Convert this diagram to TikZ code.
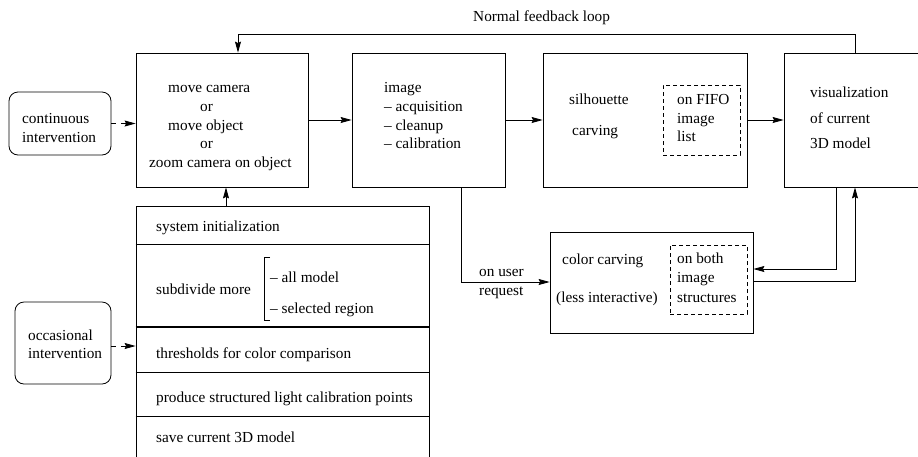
\documentclass[tikz,border=0pt]{standalone}
\usepackage{fontspec}
\setmainfont{Liberation Serif}
\usetikzlibrary{arrows.meta}
\tikzset{
  box/.style={draw=black,line width=0.8pt,rectangle,inner sep=0pt},
  rbox/.style={box,rounded corners=9pt},
  dbox/.style={draw=black,line width=0.8pt,dash pattern=on 4pt off 3pt},
  lbl/.style={anchor=base west,inner sep=0pt,font=\fontsize{15.3}{19}\selectfont},
  arr/.style={line width=0.8pt,-{Stealth[length=11pt,width=6pt,inset=1.5pt]}},
  darr/.style={arr,dash pattern=on 5pt off 5pt},
  sep/.style={line width=0.8pt}
}
\begin{document}
\begin{tikzpicture}[x=1pt,y=-1pt]
\useasboundingbox (0,0) rectangle (918,456);
\clip (0,0) rectangle (918,456);
% main boxes
\node[box,minimum width=172pt,minimum height=134pt] (box1) at (222,120) {};
\node[box,minimum width=153pt,minimum height=134pt] (box2) at (428.5,120) {};
\node[box,minimum width=204pt,minimum height=134pt] (box3) at (645,120) {};
\node[box,minimum width=166pt,minimum height=134pt] (box4) at (867,120) {};
\node[dbox,minimum width=77pt,minimum height=70pt] (fifo) at (701.5,120) {};
\node[rbox,minimum width=102pt,minimum height=63pt] (cont) at (60,123.5) {};
\node[rbox,minimum width=96pt,minimum height=82pt] (occ) at (63,343) {};
\node[box,minimum width=293pt,minimum height=274pt] (menu) at (282.5,343) {};
\node[box,minimum width=203pt,minimum height=101pt] (color) at (651.5,282.5) {};
\node[dbox,minimum width=77pt,minimum height=69pt] (both) at (708.5,279.5) {};
% menu separators
\coordinate (s1) at (0,244);
\coordinate (s2) at (0,327);
\coordinate (s3) at (0,372);
\coordinate (s4) at (0,416);
\draw[sep] (menu.west |- s1) -- (menu.east |- s1);
\draw[sep,line width=1.6pt] (menu.west |- s2) -- (menu.east |- s2);
\draw[sep] (menu.west |- s3) -- (menu.east |- s3);
\draw[sep] (menu.west |- s4) -- (menu.east |- s4);
% bracket
\coordinate (bt) at (264,257);
\coordinate (bb) at (264,320);
\draw[line width=0.8pt] ([xshift=6pt]bt) -- (bt) -- (bb) -- ([xshift=6pt]bb);
% texts
\node[lbl] (tfb) at (473,21) {Normal feedback loop};
\node[lbl] (tc1) at (22,123) {continuous};
\node[lbl] (tc2) at (22,142) {intervention};
\node[lbl] (t11) at (168,92) {move camera};
\node[lbl] (t12) at (200,111) {or};
\node[lbl] (t13) at (168,130) {move object};
\node[lbl] (t14) at (200,148) {or};
\node[lbl] (t15) at (149,167) {zoom camera on object};
\node[lbl] (t21) at (384,92) {image};
\node[lbl] (t22) at (384,111) {-- acquisition};
\node[lbl] (t23) at (384,130) {-- cleanup};
\node[lbl] (t24) at (384,148) {-- calibration};
\node[lbl] (t31) at (569,104) {silhouette};
\node[lbl] (t32) at (572,135) {carving};
\node[lbl] (tf1) at (677,104) {on FIFO};
\node[lbl] (tf2) at (677,123) {image};
\node[lbl] (tf3) at (677,141) {list};
\node[lbl] (t41) at (810,97) {visualization};
\node[lbl] (t42) at (810,123) {of current};
\node[lbl] (t43) at (810,148) {3D model};
\node[lbl] (tm1) at (156,231) {system initialization};
\node[lbl] (tm2) at (156,294) {subdivide more};
\node[lbl] (tm2a) at (270,282) {-- all model};
\node[lbl] (tm2b) at (270,313) {-- selected region};
\node[lbl] (tm3) at (156,358) {thresholds for color comparison};
\node[lbl] (tm4) at (156,402) {produce structured light calibration points};
\node[lbl] (tm5) at (156,442) {save current 3D model};
\node[lbl] (to1) at (28,340) {occasional};
\node[lbl] (to2) at (28,358) {intervention};
\node[lbl] (tcc1) at (562,264) {color carving};
\node[lbl] (tcc2) at (556,302) {(less interactive)};
\node[lbl] (tb1) at (677,263) {on both};
\node[lbl] (tb2) at (677,282) {image};
\node[lbl] (tb3) at (677,302) {structures};
\node[lbl] (tu1) at (479,276) {on user};
\node[lbl] (tu2) at (479,295) {request};
% connectors
\coordinate (fbR) at (855,34);
\coordinate (fbL) at (238,34);
\draw[arr] (box4.north -| fbR) -- (fbR) -- (fbL) -- (box1.north -| fbL);
\draw[darr] (cont.east) -- (box1.west |- cont.east);
\draw[arr] (box1.east) -- (box2.west);
\draw[arr] (box2.east) -- (box3.west);
\draw[arr] (box3.east) -- (box4.west);
\coordinate (mx) at (226,0);
\draw[arr] (menu.north -| mx) -- (box1.south -| mx);
\coordinate (oy) at (0,346);
\draw[darr] (occ.east |- oy) -- (menu.west |- oy);
\coordinate (ux) at (461,282);
\draw[arr] (box2.south -| ux) -- (ux) -- (color.west |- ux);
\coordinate (c1) at (836,269);
\draw[arr] (box4.south -| c1) -- (c1) -- (color.east |- c1);
\coordinate (c2) at (855,281);
\draw[arr] (color.east |- c2) -- (c2) -- (box4.south -| c2);
\end{tikzpicture}
\end{document}
